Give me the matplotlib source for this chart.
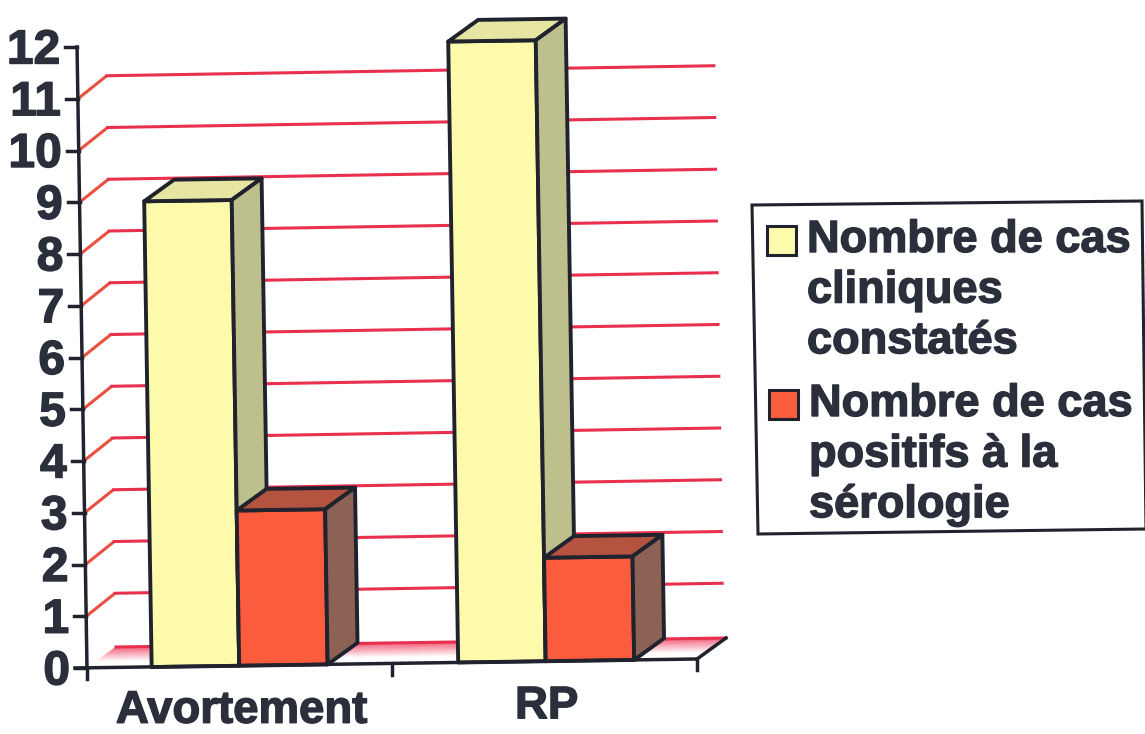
import matplotlib
matplotlib.use("Agg")
import matplotlib.pyplot as plt
import matplotlib.patheffects as pe
from matplotlib.patches import Polygon
import numpy as np

categories = ["Avortement", "RP"]
cas_cliniques = [9, 12]
cas_positifs = [3, 2]
y_ticks = list(range(0, 13))
legend_labels = ["Nombre de cas\ncliniques\nconstatés", "Nombre de cas\npositifs à la\nsérologie"]

DARK = "#20222e"
TEXT = "#2b2e3b"
FONT = "Liberation Sans"
heavy = [pe.withStroke(linewidth=1.0, foreground=TEXT)]


# category / value / depth -> pixel position (chart is slightly tilted and faked 3D)
def P(cat, val, depth=0):
    x = 87 + 305 * cat - 0.83 * val + 29 * depth
    y = 668 - 4.5 * cat - 51.75 * val - 21 * depth
    return (x, y)


def bar3d(ax, x0, x1, val, front, top, side):
    d = 1.03
    ax.add_patch(Polygon([P(x0, 0), P(x1, 0), P(x1, val), P(x0, val)], closed=True,
                         fc=front, ec=DARK, lw=2.8, joinstyle="round", zorder=5))
    ax.add_patch(Polygon([P(x0, val), P(x1, val), P(x1, val, d), P(x0, val, d)], closed=True,
                         fc=top, ec=DARK, lw=2.8, joinstyle="round", zorder=5))
    ax.add_patch(Polygon([P(x1, 0), P(x1, 0, d), P(x1, val, d), P(x1, val)], closed=True,
                         fc=side, ec=DARK, lw=2.8, joinstyle="round", zorder=5))


fig = plt.figure(figsize=(11.45, 7.34), dpi=100)
ax = fig.add_axes([0, 0, 1, 1])
ax.set_xlim(0, 1145)
ax.set_ylim(734, 0)
ax.axis("off")

# floor with pink fade
steps = 24
pink = np.array([0.95, 0.33, 0.45])
white = np.array([1.0, 1.0, 1.0])
for i in range(steps):
    d1 = 1 - i / steps
    d0 = 1 - (i + 1) / steps
    f = min(1, (i + 0.5) / (steps * 0.7))
    c = pink * (1 - f) + white * f
    ax.add_patch(Polygon([P(0, 0, d1), P(2, 0, d1), P(2, 0, d0), P(0, 0, d0)], closed=True,
                         fc=c, ec=c, lw=0.3, zorder=1))

# gridlines on the side and back walls
for v in y_ticks[:-1]:
    if v > 0:
        a = P(0, v, 0.03)
        b = P(0, v, 0.95)
        ax.plot([a[0], b[0]], [a[1], b[1] - 2], color="#e9503f", lw=2.2, zorder=2)
        a = P(0, v, 1)
        b = P(2, v, 1)
        ax.plot([a[0], b[0] - 3], [a[1] - 2, b[1] - 3], color="#e8304e", lw=2.2, zorder=2)
    else:
        a = P(0, v, 1)
        b = P(2, v, 1)
        ax.plot([a[0], b[0]], [a[1], b[1]], color="#e8304e", lw=2.2, zorder=2)

# bars
for i in range(len(categories)):
    shift = 0.007 + 0.005 * i
    bar3d(ax, i + 0.205 + shift, i + 0.492 + shift, cas_cliniques[i], "#fdfbab", "#e6e6a2", "#bdc08c")
    bar3d(ax, i + 0.492 + shift, i + 0.782 + shift, cas_positifs[i], "#fb5c3e", "#b4533f", "#8c6254")

# axes
a, b = P(0, 0), P(0, 12)
ax.plot([a[0], b[0]], [a[1], b[1]], color=DARK, lw=2.5, zorder=6)
a, b = P(0, 0), P(2, 0)
ax.plot([a[0] - 12, b[0]], [a[1], b[1]], color=DARK, lw=2.5, zorder=6)
a, b = P(2, 0), P(2, 0, 1)
ax.plot([a[0], b[0]], [a[1], b[1]], color=DARK, lw=2.5, zorder=6)

for v in y_ticks:
    x, y = P(0, v)
    ax.plot([x - 12, x], [y, y], color=DARK, lw=2.5, zorder=6)
    ax.text(x - 17, y + 4, str(v), ha="right", va="center", family=FONT, weight="bold",
            fontsize=34.5, color=TEXT, path_effects=heavy)

for c in range(3):
    x, y = P(c, 0)
    ax.plot([x, x], [y, y + 11], color=DARK, lw=2.5, zorder=6)

for i, name in enumerate(categories):
    x, y = P(i + 0.5, 0)
    ax.text(x + 2, y + 45, name, ha="center", va="center", family=FONT, weight="bold",
            fontsize=32.8, color=TEXT, path_effects=heavy)

# legend box
ax.add_patch(Polygon([(752, 205), (1142, 201), (1146, 529), (758, 534)], closed=True,
                     fc="white", ec=DARK, lw=2.2, zorder=3))
swatches = [(767, 226, "#fdfbab"), (769, 390, "#fb5c3e")]
for (sx, sy, col), label in zip(swatches, legend_labels):
    ax.add_patch(Polygon([(sx, sy), (sx + 29, sy), (sx + 29, sy + 29), (sx, sy + 29)], closed=True,
                         fc=col, ec=DARK, lw=2.2, zorder=4))
    ax.text(sx + 40, sy - 6, label, ha="left", va="top", family=FONT, weight="bold",
            fontsize=32.5, color=TEXT, linespacing=1.3, zorder=4, path_effects=heavy)

fig.savefig("out.png", dpi=100)
